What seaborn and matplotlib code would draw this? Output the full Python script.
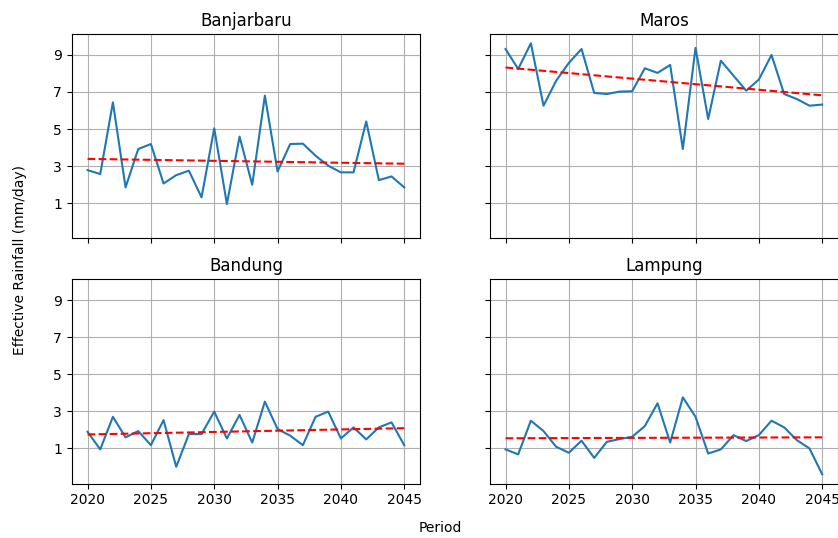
import numpy as np
import matplotlib
matplotlib.use("Agg")
import matplotlib.pyplot as plt
import seaborn as sns

# Dados
anos = list(range(2020, 2046))

banjarbaru = [2.78, 2.57, 6.44, 1.85, 3.92, 4.19, 2.06, 2.51, 2.75, 1.31,
              5.04, 0.95, 4.59, 1.99, 6.80, 2.71, 4.19, 4.21, 3.56, 3.02,
              2.66, 2.66, 5.41, 2.24, 2.44, 1.85]
maros = [9.32, 8.24, 9.63, 6.26, 7.61, 8.57, 9.32, 6.95, 6.89, 7.02,
         7.04, 8.28, 8.03, 8.46, 3.92, 9.38, 5.54, 8.69, 7.88, 7.07,
         7.67, 9.00, 6.89, 6.62, 6.26, 6.32]
bandung = [1.90, 0.95, 2.71, 1.60, 1.94, 1.18, 2.53, 0.01, 1.78, 1.78,
           2.99, 1.54, 2.81, 1.32, 3.53, 2.05, 1.69, 1.18, 2.71, 2.99,
           1.54, 2.14, 1.49, 2.14, 2.41, 1.18]
lampung = [0.95, 0.68, 2.50, 1.94, 1.09, 0.77, 1.42, 0.49, 1.36, 1.51,
           1.63, 2.21, 3.44, 1.32, 3.76, 2.71, 0.73, 0.95, 1.72, 1.40,
           1.72, 2.50, 2.14, 1.45, 1.00, -0.39]

estacoes = ["Banjarbaru", "Maros", "Bandung", "Lampung"]
series = [banjarbaru, maros, bandung, lampung]

fig, axes = plt.subplots(2, 2, figsize=(8.38, 5.38), dpi=100, sharex=True, sharey=True)
fig.subplots_adjust(left=0.0856, right=1.0, bottom=0.1013, top=0.9368,
                    wspace=0.2, hspace=0.202)

for ax, nome, valores in zip(axes.flat, estacoes, series):
    sns.lineplot(x=anos, y=valores, ax=ax, color="#1f77b4")
    # linha de tendência (regressão linear)
    coef = np.polyfit(anos, valores, 1)
    tendencia = np.polyval(coef, anos)
    ax.plot(anos, tendencia, "r--")
    ax.set_title(nome)
    ax.grid(True)

axes[0, 0].set_yticks([1, 3, 5, 7, 9])
axes[1, 0].set_xticks([2020, 2025, 2030, 2035, 2040, 2045])

fig.text(0.526, 0.018, "Period", ha="center", va="center", fontsize=10)
fig.text(0.024, 0.517, "Effective Rainfall (mm/day)", ha="center", va="center",
         rotation=90, fontsize=10)

plt.savefig("out.png", dpi=100)
